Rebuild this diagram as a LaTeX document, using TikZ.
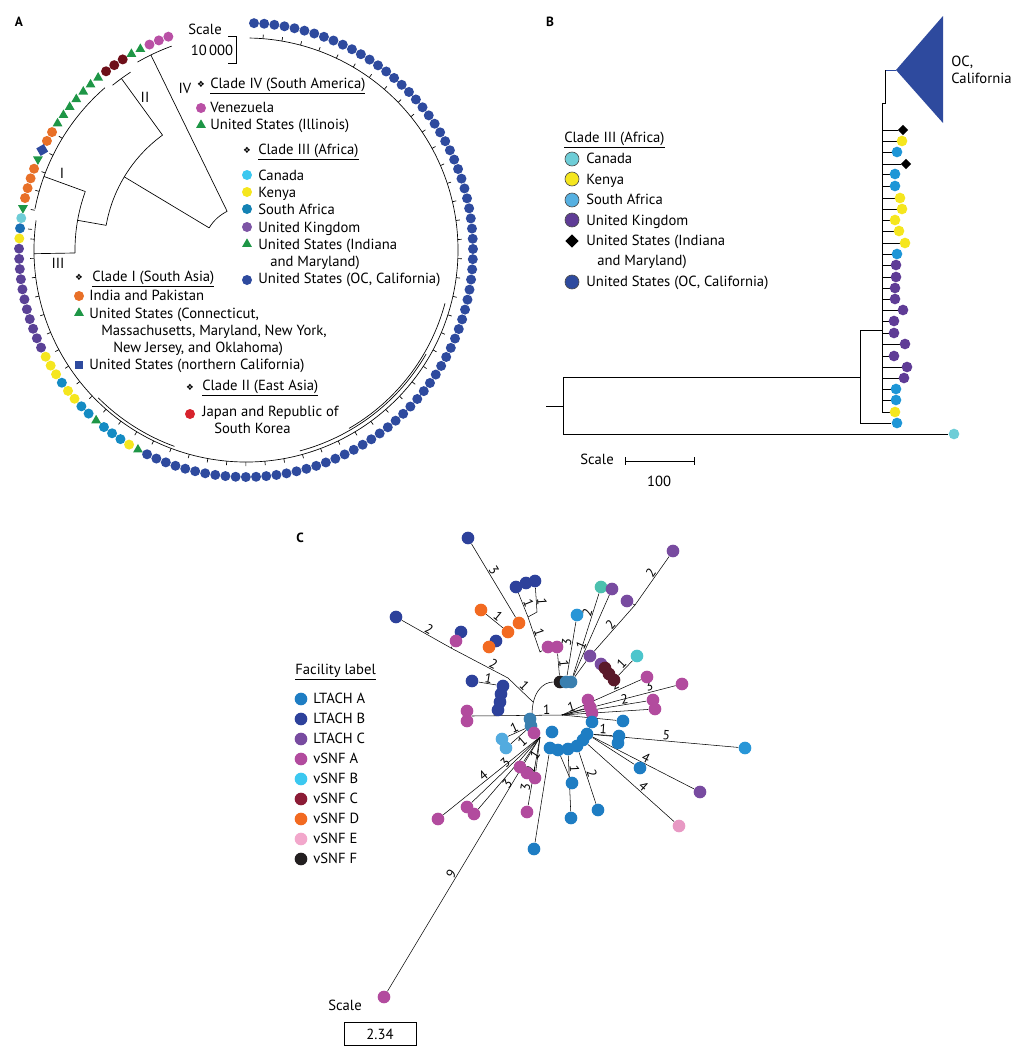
\documentclass[tikz,border=0pt]{standalone}
\usepackage{fontspec}
\setmainfont{PT Sans}
\newfontfamily\symfont{DejaVu Sans}
\usetikzlibrary{shapes.geometric,backgrounds}

% panel A colours
\definecolor{navy}{RGB}{46,74,158}
\definecolor{magA}{RGB}{185,80,165}
\definecolor{grn}{RGB}{30,150,70}
\definecolor{dred}{RGB}{110,15,25}
\definecolor{orng}{RGB}{232,112,40}
\definecolor{cyanA}{RGB}{110,205,215}
\definecolor{tealA}{RGB}{25,110,180}
\definecolor{yel}{RGB}{245,230,30}
\definecolor{purA}{RGB}{90,65,150}
\definecolor{redA}{RGB}{215,35,45}
\definecolor{cyanL}{RGB}{60,200,240}
\definecolor{tealL}{RGB}{20,130,180}
\definecolor{purL}{RGB}{125,85,165}
% panel B colours
\definecolor{sabB}{RGB}{30,150,215}
\definecolor{purB}{RGB}{95,60,150}
% panel C colours
\definecolor{ltA}{RGB}{30,125,195}
\definecolor{ltA2}{RGB}{40,150,215}
\definecolor{ltB}{RGB}{45,65,155}
\definecolor{ltC}{RGB}{120,75,160}
\definecolor{vA}{RGB}{178,75,158}
\definecolor{vB}{RGB}{60,200,240}
\definecolor{vC}{RGB}{140,28,54}
\definecolor{vD}{RGB}{242,106,33}
\definecolor{vE}{RGB}{242,167,203}
\definecolor{vF}{RGB}{35,31,32}
\definecolor{steel}{RGB}{58,127,175}
\definecolor{tealg}{RGB}{76,192,174}
\definecolor{cyanC}{RGB}{76,197,204}
\definecolor{dkred}{RGB}{90,25,42}

\tikzset{
  every node/.style={font=\fontsize{11}{13}\selectfont},
  panel/.style={font=\fontsize{10}{12}\selectfont\bfseries},
  lgtxt/.style={anchor=west, inner sep=0pt, text height=8pt, text depth=2pt},
  lgsym/.style={font=\symfont\fontsize{6.5}{7}\selectfont, inner sep=0pt},
  rdot/.style={circle, inner sep=0pt, minimum size=7.5pt},
  rtri/.style={regular polygon, regular polygon sides=3, inner sep=0pt, minimum size=8.5pt, fill=grn},
  ring m/.style={rdot, fill=magA},
  ring g/.style={rtri},
  ring v/.style={rtri, shape border rotate=180},
  ring d/.style={rdot, fill=dred},
  ring o/.style={rdot, fill=orng},
  ring s/.style={rectangle, inner sep=0pt, minimum size=6.5pt, fill=navy, rotate=30},
  ring c/.style={rdot, fill=cyanA},
  ring t/.style={rdot, fill=tealA},
  ring y/.style={rdot, fill=yel},
  ring p/.style={rdot, fill=purA},
  ring b/.style={rdot, fill=tealA!80!cyan},
  ring n/.style={rdot, fill=navy},
  bdot/.style={circle, inner sep=0pt, minimum size=8pt},
  byel/.style={bdot, fill=yel},
  bsab/.style={bdot, fill=sabB},
  bpur/.style={bdot, fill=purB},
  bdia/.style={diamond, inner sep=0pt, minimum size=8pt, fill=black},
  bkey/.style={circle, draw=black!70, line width=0.5pt, inner sep=0pt, minimum size=10.5pt},
  cdot/.style={circle, inner sep=0pt, minimum size=9.5pt},
  elab/.style={font=\fontsize{10}{11}\selectfont, inner sep=0.5pt, sloped, above},
}

\begin{document}
\begin{tikzpicture}[x=0.75pt, y=-0.75pt, line width=0.5pt]
\useasboundingbox (0,0) rectangle (1026,1050);

% ======================= panel A =======================
\node[panel] (lblA) at (19,22) {A};
\begin{scope}[shift={(246,250)}, yscale=-1]
  % outer ring of isolates
  \foreach \c [count=\i from 0] in {m,m,m,g,g,d,d,d,g,g,g,g,g,g,g,o,o,s,v,o,o,o,o,v,c,t,y,p,p,p,p,p,p,p,p,p,p,p,y,y,y,b,y,y,b,b,g,b,b,b,y,g}
    \node[ring \c] at ({110+2.58*\i}:227) {};
  \foreach \i in {52,...,131}
    \node[ring n] at ({110+2.58*\i}:227) {};
  % tree
  \draw (116:43) arc[start angle=116, end angle=149, radius=43];
  \draw (116:43) -- (116:217);
  \draw (110:217) arc[start angle=110, end angle=120, radius=217];
  \draw (149:43) -- (149:142);
  \draw (126:142) arc[start angle=126, end angle=170, radius=142];
  \draw (126:142) -- (126:212);
  \draw (123:212) arc[start angle=123, end angle=129, radius=212];
  \draw (170:142) -- (170:171);
  \draw (160:171) arc[start angle=160, end angle=181, radius=171];
  \draw (160:171) -- (160:215);
  \draw (131:215) arc[start angle=131, end angle=169, radius=215];
  \draw (181:171) -- (181:212);
  \draw (172:212) arc[start angle=172, end angle=449, radius=212];
  % subclades
  \draw (285:208) arc[start angle=285, end angle=330, radius=208];
  \draw (300:206) arc[start angle=300, end angle=345, radius=206];
  \draw (225:209) arc[start angle=225, end angle=250, radius=209];
  % leaf ticks
  \foreach \i in {15,17,...,25}
    \draw ({110+2.58*\i}:215) -- ({110+2.58*\i}:219);
  \foreach \i in {26,28,...,130}
    \draw ({110+2.58*\i}:212) -- ({110+2.58*\i}:216);
\end{scope}
% clade labels
\node (cI) at (62,173) {I};
\node (cII) at (145,97) {II};
\node (cIII) at (58,263) {III};
\node (cIV) at (185,88) {IV};
% scale
\node (scA) at (205,29) {Scale};
\node (scAv) at (212,50) {10\,000};
\draw (228,36) -- (236,36) -- (236,63) -- (228,63);
% legend
\node[lgsym] (sIV) at (201,84) {❖};
\node[lgtxt] (tIV) at (210,84) {\underline{Clade IV (South America)}};
\node[rdot, fill=magA] (kIVa) at (201,108) {};
\node[lgtxt] (tIVa) at (210,108) {Venezuela};
\node[rtri] (kIVb) at (201,125) {};
\node[lgtxt] (tIVb) at (210,125) {United States (Illinois)};
\node[lgsym] (sIII) at (247,150) {❖};
\node[lgtxt] (tIII) at (258,150) {\underline{Clade III (Africa)}};
\node[rdot, fill=cyanL] (kIIIa) at (247,175) {};
\node[lgtxt] (tIIIa) at (258,176) {Canada};
\node[rdot, fill=yel] (kIIIb) at (247,192) {};
\node[lgtxt] (tIIIb) at (258,193) {Kenya};
\node[rdot, fill=tealL] (kIIIc) at (247,209) {};
\node[lgtxt] (tIIIc) at (258,210) {South Africa};
\node[rdot, fill=purL] (kIIId) at (247,227) {};
\node[lgtxt] (tIIId) at (258,228) {United Kingdom};
\node[rtri] (kIIIe) at (247,244) {};
\node[lgtxt] (tIIIe) at (258,245) {United States (Indiana};
\node[lgtxt] (tIIIe2) at (270,262) {and Maryland)};
\node[rdot, fill=navy] (kIIIf) at (247,280) {};
\node[lgtxt] (tIIIf) at (258,279) {United States (OC, California)};
\node[lgsym] (sI) at (79,277) {❖};
\node[lgtxt] (tI) at (92,277) {\underline{Clade I (South Asia)}};
\node[rdot, fill=orng] (kIa) at (79,296) {};
\node[lgtxt] (tIa) at (89,296) {India and Pakistan};
\node[rtri] (kIb) at (79,313) {};
\node[lgtxt] (tIb) at (89,314) {United States (Connecticut,};
\node[lgtxt] (tIb2) at (101,331) {Massachusetts, Maryland, New York,};
\node[lgtxt] (tIb3) at (113,348) {New Jersey, and Oklahoma)};
\node[rectangle, inner sep=0pt, minimum size=6.5pt, fill=navy] (kIc) at (79,365) {};
\node[lgtxt] (tIc) at (89,365) {United States (northern California)};
\node[lgsym] (sII) at (190,387) {❖};
\node[lgtxt] (tII) at (202,386) {\underline{Clade II (East Asia)}};
\node[rdot, fill=redA] (kIIa) at (190,414) {};
\node[lgtxt] (tIIa) at (202,412) {Japan and Republic of};
\node[lgtxt] (tIIa2) at (214,429) {South Korea};

% ======================= panel B =======================
\node[panel] (lblB) at (550,22) {B};
% collapsed OC clade
\fill[navy] (896,70) -- (943,16) -- (943,123) -- cycle;
\draw[navy] (885,70) -- (896,70);
\node[anchor=west, align=left, inner sep=0pt] (ocB) at (951,70) {OC,\\California};
% tree
\draw (546,406) -- (563,406);
\draw (860,377) -- (563,377) -- (563,434) -- (948,434);
\draw (882,330) -- (860,330) -- (860,423) -- (891,423);
\draw (885,70) -- (885,103) -- (882,103) -- (882,412);
\foreach \y/\x/\s in {130/903/bdia, 141/902/byel, 152/897/bsab, 164/906/bdia,
    174/895/bsab, 186/895/bsab, 198/900/byel, 209/902/byel, 220/895/byel,
    231/899/byel, 243/905/byel, 254/897/bsab, 265/896/bpur, 277/896/bpur,
    288/895/bpur, 299/895/bpur, 310/903/bpur, 321/894/bpur, 333/894/bpur,
    344/905/bpur, 356/894/bpur, 367/907/bpur, 378/904/bpur, 389/896/bsab,
    400/896/bsab, 412/895/byel}
  {
    \draw (882,\y) -- ({\x-5},\y);
    \node[\s] at (\x,\y) {};
  }
\node[bsab] (bSA) at (897,423) {};
\node[bdot, fill=cyanA] (bCan) at (954,434) {};
% legend
\node[lgtxt] (tB) at (564,138) {\underline{Clade III (Africa)}};
\node[bkey, fill=cyanA] (kBa) at (572,159) {};
\node[lgtxt] (tBa) at (586,159) {Canada};
\node[bkey, fill=yel] (kBb) at (572,179) {};
\node[lgtxt] (tBb) at (586,180) {Kenya};
\node[bkey, fill=sabB!75!white] (kBc) at (572,200) {};
\node[lgtxt] (tBc) at (586,200) {South Africa};
\node[bkey, fill=purB] (kBd) at (572,220) {};
\node[lgtxt] (tBd) at (586,221) {United Kingdom};
\node[diamond, fill=black, inner sep=0pt, minimum size=10pt] (kBe) at (572,241) {};
\node[lgtxt] (tBe) at (586,241) {United States (Indiana};
\node[lgtxt] (tBe2) at (597,261) {and Maryland)};
\node[bkey, fill=navy] (kBf) at (572,282) {};
\node[lgtxt] (tBf) at (586,282) {United States (OC, California)};
% scale
\node (scB) at (597,459) {Scale};
\draw (625,457) -- (625,465) (625,461) -- (694,461) (694,457) -- (694,465);
\node (scBv) at (659,481) {100};

% ======================= panel C =======================
\node[panel] (lblC) at (300,538) {C};
% legend
\node[lgtxt] (tC) at (295,670) {\underline{Facility label}};
\foreach \y/\c/\t [count=\k] in {699/ltA/LTACH A, 719/ltB/LTACH B, 739/ltC/LTACH C,
    759/vA/vSNF A, 779/vB/vSNF B, 799/vC/vSNF C, 819/vD/vSNF D, 839/vE/vSNF E, 859/vF/vSNF F}
  {
    \node[cdot, fill=\c] (key\k) at (301,\y) {};
    \node[lgtxt] (keyt\k) at (313,\y) {\t};
  }
% scale
\node (scC) at (345,1005) {Scale};
\node[draw, minimum width=54pt, minimum height=17pt, inner sep=0pt] (scCv) at (380,1034) {2.34};

% isolates
\node[cdot, fill=ltB] (b1) at (468,538) {};
\node[cdot, fill=ltC] (p1) at (673,551) {};
\node[cdot, fill=ltB] (b2) at (516,587) {};
\node[cdot, fill=ltB] (b3) at (526,583) {};
\node[cdot, fill=ltB] (b4) at (535,581) {};
\node[cdot, fill=tealg] (g1) at (601,587) {};
\node[cdot, fill=ltC] (p2) at (612,589) {};
\node[cdot, fill=ltC] (p3) at (627,601) {};
\node[cdot, fill=vD] (o1) at (481,610) {};
\node[cdot, fill=ltB] (b5) at (396,617) {};
\node[cdot, fill=ltA2] (a1) at (577,615) {};
\node[cdot, fill=vD] (o2) at (519,623) {};
\node[cdot, fill=ltB] (b6) at (461,632) {};
\node[cdot, fill=vD] (o3) at (508,632) {};
\node[cdot, fill=vA] (m1) at (456,641) {};
\node[cdot, fill=ltB] (b7) at (496,641) {};
\node[cdot, fill=vD] (o4) at (489,647) {};
\node[cdot, fill=vA] (m2) at (548,647) {};
\node[cdot, fill=vA] (m3) at (557,647) {};
\node[cdot, fill=ltC] (p4) at (590,656) {};
\node[cdot, fill=cyanC] (c1) at (637,656) {};
\node[cdot, fill=ltC] (p5) at (601,664) {};
\node[cdot, fill=dkred] (r1) at (605,668) {};
\node[cdot, fill=dkred] (r2) at (609,674) {};
\node[cdot, fill=dkred] (r3) at (614,680) {};
\node[cdot, fill=vA] (m4) at (647,677) {};
\node[cdot, fill=vA] (m5) at (682,684) {};
\node[cdot, fill=ltB] (b8) at (472,681) {};
\node[cdot, fill=vF] (k1) at (560,682) {};
\node[cdot, fill=steel] (s1) at (566,682) {};
\node[cdot, fill=steel] (s2) at (571,682) {};
\node[cdot, fill=ltB] (b9) at (503,686) {};
\node[cdot, fill=ltB] (b10) at (501,694) {};
\node[cdot, fill=ltB] (b11) at (500,702) {};
\node[cdot, fill=ltB] (b12) at (498,710) {};
\node[cdot, fill=vA] (m6) at (588,700) {};
\node[cdot, fill=vA] (m7) at (590,707) {};
\node[cdot, fill=vA] (m8) at (592,713) {};
\node[cdot, fill=vA] (m9) at (653,700) {};
\node[cdot, fill=vA] (m10) at (655,709) {};
\node[cdot, fill=vA] (m11) at (467,711) {};
\node[cdot, fill=vA] (m12) at (467,721) {};
\node[cdot, fill=steel] (s3) at (530,719) {};
\node[cdot, fill=steel] (s4) at (531,726) {};
\node[cdot, fill=ltA] (a2) at (592,722) {};
\node[cdot, fill=ltA] (a3) at (623,721) {};
\node[cdot, fill=ltA2] (a4) at (745,748) {};
\node[cdot, fill=vA] (m13) at (534,733) {};
\node[cdot, fill=ltA] (a5) at (552,732) {};
\node[cdot, fill=ltA2!80!white] (a6) at (502,739) {};
\node[cdot, fill=ltA2!80!white] (a7) at (506,748) {};
\node[cdot, fill=ltA] (a8) at (550,748) {};
\node[cdot, fill=ltA] (a9) at (558,750) {};
\node[cdot, fill=ltA] (a10) at (568,749) {};
\node[cdot, fill=ltA] (a11) at (577,746) {};
\node[cdot, fill=ltA] (a12) at (583,740) {};
\node[cdot, fill=ltA] (a13) at (587,734) {};
\node[cdot, fill=ltA] (a14) at (619,736) {};
\node[cdot, fill=ltA] (a15) at (618,743) {};
\node[cdot, fill=ltA] (a16) at (640,768) {};
\node[cdot, fill=ltC] (p6) at (700,792) {};
\node[cdot, fill=vA] (m14) at (520,767) {};
\node[cdot, fill=vA] (m15) at (527,773) {};
\node[cdot, fill=vA] (m16) at (535,778) {};
\node[cdot, fill=ltA] (a17) at (572,783) {};
\node[cdot, fill=vA] (m17) at (467,807) {};
\node[cdot, fill=vA] (m18) at (474,814) {};
\node[cdot, fill=vA] (m19) at (438,819) {};
\node[cdot, fill=vA] (m20) at (527,812) {};
\node[cdot, fill=ltA] (a18) at (598,810) {};
\node[cdot, fill=ltA] (a19) at (571,818) {};
\node[cdot, fill=vE!85!vA] (e1) at (679,826) {};
\node[cdot, fill=ltA] (a20) at (534,849) {};
\node[cdot, fill=vA] (m21) at (384,997) {};
% junctions
\coordinate (hub) at (562,715);
\coordinate (ua) at (532,715);
\coordinate (ua2) at (533,702);
\coordinate (kk1) at (540,652);
\coordinate (kk2) at (528,617);
\coordinate (kk3) at (537,612);
\coordinate (jl1) at (508,678);
\coordinate (jl2) at (451,648);
\coordinate (kink) at (635,605);
\coordinate (lft) at (472,716);
\coordinate (ll) at (540,737);

% links
\begin{scope}[on background layer]
  \draw (hub) -- (lft) node[elab, pos=.17] {1};
  \draw (ua) .. controls (532,692) and (543,682) .. (k1);
  \draw (k1) -- (m3) node[elab, pos=.5] {1};
  \draw (s1) -- (a1) node[elab, pos=.6] {3};
  \draw (s2) -- (g1) node[elab, pos=.75] {2};
  \draw (s2) -- (p2) node[elab, pos=.35] {1};
  \draw (s2) -- (p4) -- (kink) node[elab, pos=.5] {2};
  \draw (kink) -- (p1) node[elab, pos=.6] {2};
  \draw (kink) -- (p3);
  \draw (m2) -- (kk1) -- (kk2) node[elab, pos=.5] {1};
  \draw (kk2) -- (b2) node[elab, pos=.5] {1};
  \draw (kk2) -- (kk3) -- (b4) node[elab, pos=.4] {1};
  \draw (o2) -- (b1) node[elab, pos=.6] {3};
  \draw (o1) -- (o3) node[elab, pos=.5] {1};
  \draw (ua2) -- (jl1) node[elab, pos=.5] {1};
  \draw (jl1) -- (jl2) node[elab, pos=.3] {2};
  \draw (jl2) -- (m1);
  \draw (jl2) -- (b5) node[elab, pos=.5] {2};
  \draw (b8) -- (b9) node[elab, pos=.5] {1};
  \draw (hub) -- (m7) node[elab, pos=.5] {1};
  \draw (hub) -- (m4) node[elab, pos=.7] {2};
  \draw (hub) -- (m5) node[elab, pos=.78] {3};
  \draw (hub) -- (m9) node[elab, pos=.75] {2};
  \draw (hub) -- (m10);
  \draw (hub) -- (a3) node[elab, pos=.6] {1};
  \draw (r3) -- (c1) node[elab, pos=.5] {1};
  \draw (a13) -- (a4) node[elab, pos=.5] {5};
  \draw (a13) -- (a14) node[elab, pos=.5] {1};
  \draw (a13) -- (a16);
  \draw (a13) -- (p6) node[elab, pos=.5] {4};
  \draw (a12) -- (e1) node[elab, pos=.6] {4};
  \draw (a11) -- (a18) node[elab, pos=.45] {2};
  \draw (a10) -- (a19) node[elab, pos=.25] {1};
  \draw (a9) -- (a17);
  \draw (a8) -- (a20);
  \draw (ll) -- (m19) node[elab, pos=.55] {4};
  \draw (ll) -- (m17) node[elab, pos=.45] {3};
  \draw (ll) -- (m18) node[elab, pos=.6, below] {3};
  \draw (ll) -- (m14) node[elab, pos=.6, below] {1};
  \draw (ll) -- (m16) node[elab, pos=.95] {2};
  \draw (ll) -- (m20) node[elab, pos=.75] {3};
  \draw (ll) -- (m21) node[elab, pos=.55] {9};
  \draw (s4) -- (a6) node[elab, pos=.5] {1};
  \draw (s4) -- (a7) node[elab, pos=.5, below] {1};
\end{scope}
\end{tikzpicture}
\end{document}
